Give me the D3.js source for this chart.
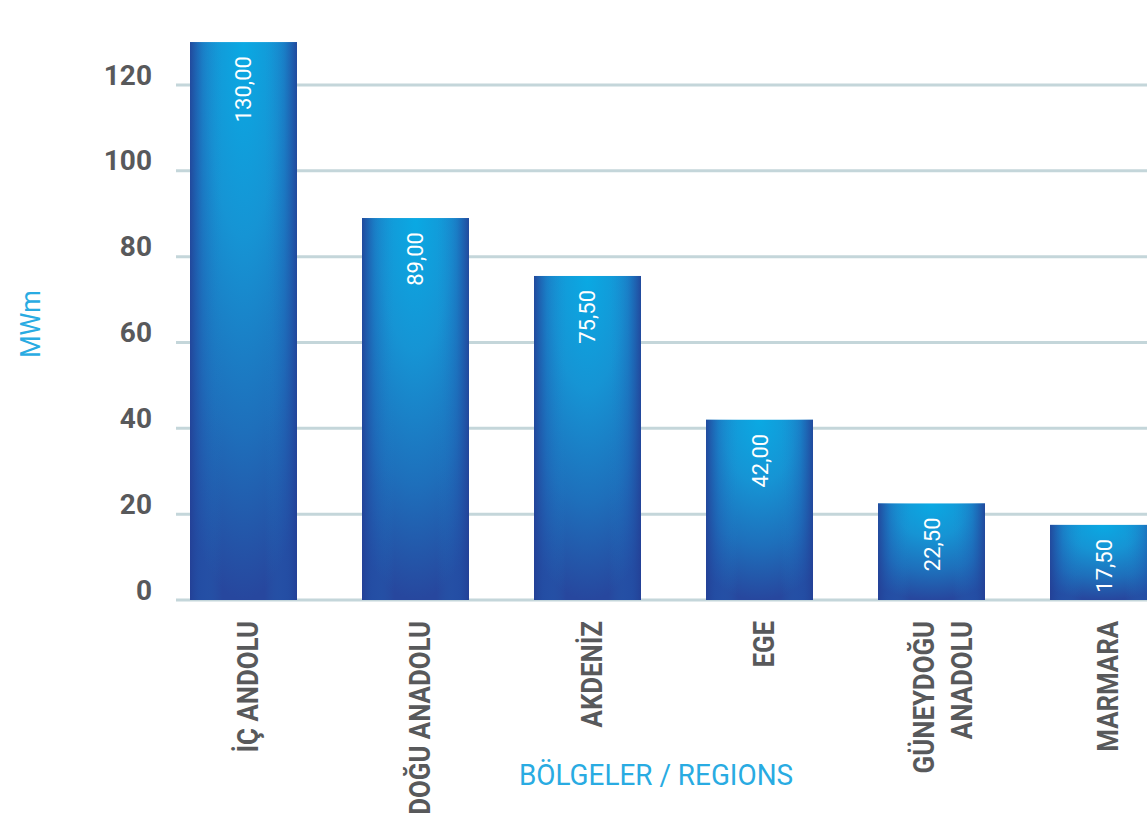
<!DOCTYPE html>
<html>
<head>
<meta charset="utf-8">
<script src="https://cdn.jsdelivr.net/npm/d3@7"></script>
<style>
  html, body { margin: 0; padding: 0; background: #fff; }
  svg { display: block; }
</style>
</head>
<body>
<svg id="chart" width="1147" height="828"></svg>
<script>
const categories = [["İÇ ANDOLU"], ["DOĞU ANADOLU"], ["AKDENİZ"], ["EGE"], ["GÜNEYDOĞU", "ANADOLU"], ["MARMARA"]];
const values = [130.00, 89.00, 75.50, 42.00, 22.50, 17.50];
const yTicks = [0, 20, 40, 60, 80, 100, 120];
const yTitle = "MWm";
const xTitle = "BÖLGELER / REGIONS";

const W = 1147, H = 828;
const svg = d3.select("#chart");
const font = "Roboto, 'DejaVu Sans', sans-serif";
const grey = "#58595b";
const cyan = "#29abe2";

const keys = categories.map(c => c.join(" "));
const x = d3.scaleBand().domain(keys).range([190, 1157]).paddingInner(0.378).paddingOuter(0);
const y = d3.scaleLinear().domain([0, 120]).range([600, 85]);

const defs = svg.append("defs");
const rg = defs.append("radialGradient").attr("id", "barRad")
  .attr("cx", "50%").attr("cy", "0%").attr("r", "100%").attr("fx", "50%").attr("fy", "0%");
[[0, "#0aa9e3"], [0.35, "#1694d4"], [0.7, "#1e6fbb"], [1, "#27479e"]].forEach(([o, c]) =>
  rg.append("stop").attr("offset", o).attr("stop-color", c));
const lg = defs.append("linearGradient").attr("id", "barEdge").attr("x1", "0").attr("x2", "1").attr("y1", "0").attr("y2", "0");
[[0, "#233f95", 0.85], [0.12, "#1f5bb0", 0.35], [0.3, "#1a8ad0", 0], [0.7, "#1a8ad0", 0], [0.88, "#1f5bb0", 0.35], [1, "#233f95", 0.85]].forEach(([o, c, a]) =>
  lg.append("stop").attr("offset", o).attr("stop-color", c).attr("stop-opacity", a));

// gridlines
const grid = svg.append("g");
grid.selectAll("line").data(yTicks).join("line")
  .attr("x1", 176).attr("x2", W)
  .attr("y1", d => y(d)).attr("y2", d => y(d))
  .attr("stroke", "#c4d6da").attr("stroke-width", 3);

// y tick labels via axis
const yAxis = svg.append("g").attr("transform", "translate(176,0)")
  .call(d3.axisLeft(y).tickValues(yTicks).tickSize(0).tickPadding(24).tickFormat(d3.format("d")));
yAxis.select(".domain").remove();
yAxis.selectAll("text")
  .attr("fill", grey).attr("font-family", font).attr("font-weight", "bold").attr("font-size", 28)
  .attr("dy", "0").attr("y", -1);

// bars
const bars = svg.append("g");
const data = keys.map((k, i) => ({ k, v: values[i], lines: categories[i] }));
bars.selectAll("rect.base").data(data).join("rect").attr("class", "base")
  .attr("x", d => x(d.k)).attr("width", x.bandwidth())
  .attr("y", d => y(d.v)).attr("height", d => y(0) - y(d.v))
  .attr("fill", "url(#barRad)");
bars.selectAll("rect.edge").data(data).join("rect").attr("class", "edge")
  .attr("x", d => x(d.k)).attr("width", x.bandwidth())
  .attr("y", d => y(d.v)).attr("height", d => y(0) - y(d.v))
  .attr("fill", "url(#barEdge)");

// value labels
const fmt = v => v.toFixed(2).replace(".", ",");
bars.selectAll("text.val").data(data).join("text").attr("class", "val")
  .attr("transform", d => `translate(${x(d.k) + x.bandwidth() / 2 + 8},${y(d.v) + 14}) rotate(-90)`)
  .attr("text-anchor", "end")
  .attr("fill", "#ffffff").attr("font-family", font).attr("font-size", 22)
  .text(d => fmt(d.v));

// category labels
const cat = svg.append("g");
data.forEach(d => {
  const n = d.lines.length;
  const cx = x(d.k) + x.bandwidth() / 2;
  d.lines.forEach((line, j) => {
    const center = cx + 4 + (n > 1 ? j * 38 - 12.5 : 0);
    cat.append("text")
      .attr("transform", `translate(${center + 10.7},621) rotate(-90) scale(0.86,1)`)
      .attr("text-anchor", "end")
      .attr("fill", grey).attr("font-family", font).attr("font-weight", "bold").attr("font-size", 30)
      .text(line);
  });
});

// axis titles
svg.append("text")
  .attr("transform", "translate(40,324) rotate(-90) scale(0.95,1)")
  .attr("text-anchor", "middle")
  .attr("fill", cyan).attr("font-family", font).attr("font-size", 27)
  .text(yTitle);
svg.append("text")
  .attr("transform", "translate(656,785) scale(0.93,1)")
  .attr("text-anchor", "middle")
  .attr("fill", cyan).attr("font-family", font).attr("font-size", 30)
  .text(xTitle);
</script>
</body>
</html>
